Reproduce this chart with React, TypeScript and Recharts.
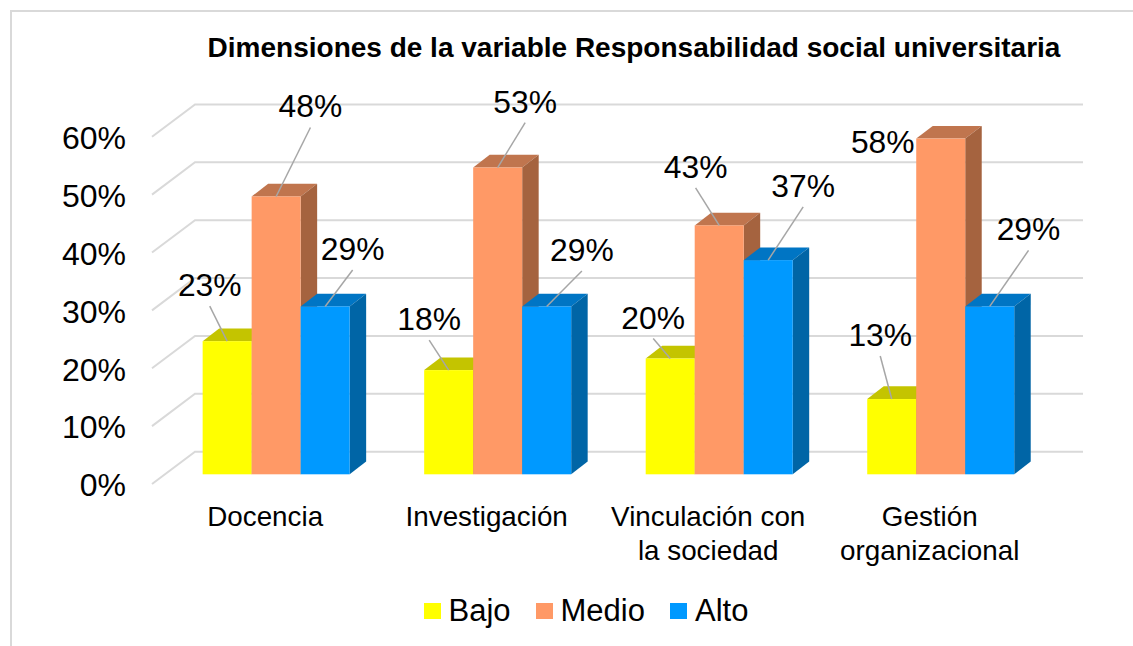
import { Bar, BarChart, CartesianGrid, LabelList, Legend, XAxis, YAxis } from "recharts";

const categories = ["Docencia", "Investigación", "Vinculación con\nla sociedad", "Gestión\norganizacional"];
const bajo = [23, 18, 20, 13];
const medio = [48, 53, 43, 58];
const alto = [29, 29, 37, 29];
const yTicks = [0, 10, 20, 30, 40, 50, 60];

const data = categories.map((name, i) => ({ name, Bajo: bajo[i], Medio: medio[i], Alto: alto[i] }));

const font = "'Liberation Sans', Arial, sans-serif";
const depthX = 16.5;
const depthY = 12.7;
const gridColor = "#d9d9d9";

// label centre relative to the top middle of each bar
const bajoLabels = [[-17.4, -56], [-19.5, -51], [-17, -41], [-11.5, -64]];
const medioLabels = [[34.3, -90], [27.5, -66], [-23.6, -58.6], [-58, 3]];
const altoLabels = [[27.5, -57.4], [35.2, -56.4], [35, -74.3], [38.8, -77]];
const noLeader = ["Medio-3"];

function GridLine(props: any) {
  const { y1 } = props;
  const points = `152,${y1 + 9.7} 195,${y1 - 22.6} 1083,${y1 - 22.6}`;
  return <polyline points={points} fill="none" stroke={gridColor} strokeWidth={2} />;
}

function YTick({ y, payload }: any) {
  return (
    <text x={126} y={y + 22} textAnchor="end" fontSize={32} fontFamily={font} fill="#000">
      {payload.value}%
    </text>
  );
}

function XTick({ x, y, payload }: any) {
  return (
    <text textAnchor="middle" fontSize={27.8} fontFamily={font} fill="#000">
      {String(payload.value).split("\n").map((line, i) => (
        <tspan key={line} x={x - 11.5} y={y + 51.5 + i * 34}>{line}</tspan>
      ))}
    </text>
  );
}

function bar3d(topColor: string, sideColor: string) {
  return (props: any) => {
    const { x, y, width, height, fill } = props;
    const r = x + width;
    const b = y + height;
    return (
      <g>
        <polygon points={`${x},${y} ${x + depthX},${y - depthY} ${r + depthX},${y - depthY} ${r},${y}`} fill={topColor} />
        <polygon points={`${r},${y} ${r + depthX},${y - depthY} ${r + depthX},${b - depthY} ${r},${b}`} fill={sideColor} />
        <rect x={x} y={y} width={width} height={height} fill={fill} />
      </g>
    );
  };
}

function pointLabel(series: string, offsets: number[][]) {
  return (props: any) => {
    const { value, index } = props;
    const box = props.viewBox ?? props;
    const cx = box.x + box.width / 2;
    const top = box.y;
    const [dx, dy] = offsets[index];
    const leader = !noLeader.includes(`${series}-${index}`);
    return (
      <g>
        {leader && <line x1={cx + dx} y1={top + dy + 21} x2={cx} y2={top} stroke="#a6a6a6" strokeWidth={1.5} />}
        <text x={cx + dx} y={top + dy + 11} textAnchor="middle" fontSize={31.8} fontFamily={font} fill="#000">
          {value}%
        </text>
      </g>
    );
  };
}

function LegendRow({ payload }: any) {
  return (
    <div style={{ display: "flex", alignItems: "center", fontFamily: font, fontSize: 31, lineHeight: "36px" }}>
      {(payload ?? []).map((item: any) => (
        <div key={item.value} style={{ display: "flex", alignItems: "center", marginRight: 25 }}>
          <span style={{ width: 17, height: 16, background: item.color, marginRight: 8 }} />
          <span>{item.value}</span>
        </div>
      ))}
    </div>
  );
}

export default function App() {
  return (
    <div style={{ position: "absolute", left: 0, top: 0, width: 1133, height: 646, background: "#fff", overflow: "hidden" }}>
      <div style={{ position: "absolute", left: 10, top: 10, right: -4, bottom: -4, borderLeft: "2px solid #d9d9d9", borderTop: "2px solid #d9d9d9" }} />
      <BarChart
        width={1133}
        height={646}
        data={data}
        margin={{ top: 127, right: 81, bottom: 170.7, left: 164.9 }}
        barGap={0}
        barCategoryGap={36.75}
      >
        <text x={634} y={57} textAnchor="middle" fontSize={28} fontWeight="bold" fontFamily={font} fill="#000">
          Dimensiones de la variable Responsabilidad social universitaria
        </text>
        <CartesianGrid horizontal={GridLine} vertical={false} />
        <XAxis dataKey="name" height={1} axisLine={false} tickLine={false} tickSize={0} tickMargin={0} interval={0} tick={XTick} />
        <YAxis width={1} domain={[0, 60]} ticks={yTicks} axisLine={false} tickLine={false} tick={YTick} />
        <Legend
          layout="horizontal"
          verticalAlign="middle"
          align="center"
          itemSorter={null}
          wrapperStyle={{ left: 423.5, top: 593, width: 500 }}
          content={LegendRow}
        />
        <Bar dataKey="Bajo" fill="#ffff00" isAnimationActive={false} shape={bar3d("#c4c400", "#a3a300")}>
          <LabelList dataKey="Bajo" content={pointLabel("Bajo", bajoLabels)} />
        </Bar>
        <Bar dataKey="Medio" fill="#ff9966" isAnimationActive={false} shape={bar3d("#c0754e", "#a5633f")}>
          <LabelList dataKey="Medio" content={pointLabel("Medio", medioLabels)} />
        </Bar>
        <Bar dataKey="Alto" fill="#0099ff" isAnimationActive={false} shape={bar3d("#0075c4", "#0065a6")}>
          <LabelList dataKey="Alto" content={pointLabel("Alto", altoLabels)} />
        </Bar>
      </BarChart>
    </div>
  );
}
